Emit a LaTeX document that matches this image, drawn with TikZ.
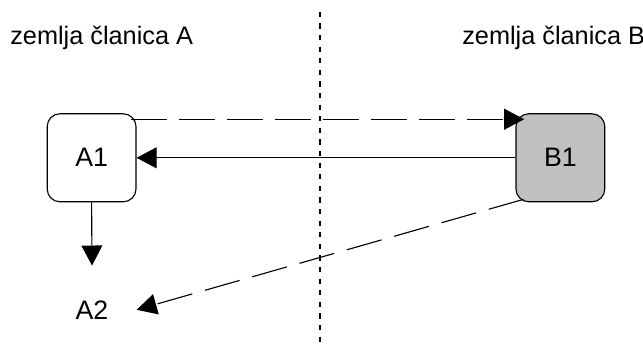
\documentclass[tikz,border=0pt]{standalone}
\usepackage{fontspec}
\setmainfont{Liberation Sans}
\usetikzlibrary{arrows.meta}
\definecolor{boxgray}{RGB}{192,192,192}

\begin{document}
\begin{tikzpicture}[scale=1,
    box/.style={draw, line width=0.8pt, rounded corners=0.32cm, minimum width=2.22cm,
      minimum height=2.2cm, inner sep=0pt, font=\fontsize{19}{21}\selectfont},
    ghost/.style={minimum width=2.22cm, minimum height=2.2cm, inner sep=0pt,
      font=\fontsize{19}{21}\selectfont},
    flow/.style={line width=0.8pt, -{Triangle[length=0.5cm, width=0.52cm]}},
    label/.style={font=\fontsize{18}{20}\selectfont, inner sep=0pt}]
  \useasboundingbox (0, 0) rectangle (16.075, 8.625);

  % Border between the two states
  \draw[line width=0.8pt, dash pattern=on 0.13cm off 0.16cm] (8.0, 8.33) -- (8.0, 0);
  \node[label, anchor=base west] (landA) at (0.25, 7.5) {zemlja članica A};
  \node[label, anchor=base west] (landB) at (11.55, 7.5) {zemlja članica B};

  % Boxes
  \node[box] (A1) at (2.29, 4.68) {A1};
  \node[box, fill=boxgray] (B1) at (14.01, 4.68) {B1};
  \node[ghost] (A2) at (2.3, 0.88) {A2};

  % Arrows
  \draw[flow, dash pattern=on 0.9cm off 0.3cm]
    ([xshift=-0.15cm, yshift=-0.15cm]A1.north east) -- ([xshift=0.22cm, yshift=-0.15cm]B1.north west);
  \draw[flow] (B1.west) -- (A1.east);
  \draw[flow] (A1.south) -- (A2.north);
  \draw[flow, dash pattern=on 0.9cm off 0.33cm]
    ([xshift=0.2cm, yshift=0.075cm]B1.south west) -- (A2.east);
\end{tikzpicture}
\end{document}
